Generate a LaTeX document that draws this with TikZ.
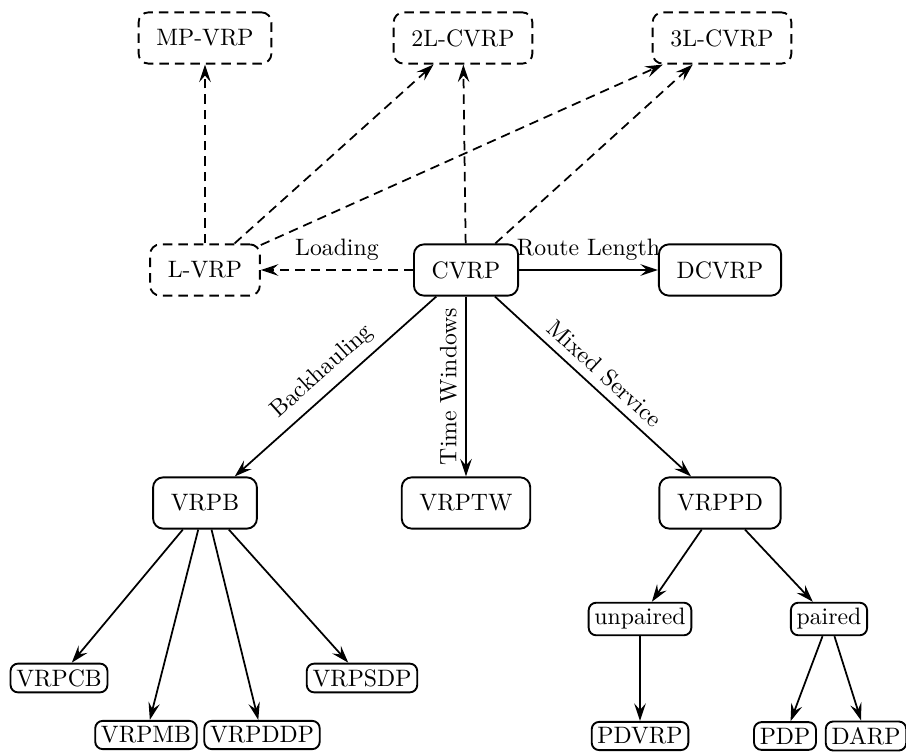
\documentclass[tikz,border=0pt]{standalone}
\usetikzlibrary{arrows.meta}
\begin{document}
\begin{tikzpicture}[x=0.4pt,y=-0.4pt,
  every node/.style={font=\fontsize{9.5}{11.4}\selectfont},
  prob/.style={draw, line width=0.75pt, rounded corners=4pt, inner xsep=7.1pt, minimum height=20.5pt},
  ext/.style={prob, dash pattern=on 3.8pt off 2.4pt},
  leaf/.style={draw, line width=0.75pt, rounded corners=3pt, inner sep=2.3pt},
  link/.style={line width=0.7pt, -{Stealth[length=7pt,width=4.6pt,inset=2.6pt]}},
  extlink/.style={link, dash pattern=on 3.8pt off 2.4pt}]
\useasboundingbox (0,0) rectangle (906,752);

% extensions by loading constraints
\node[ext] (mpvrp) at (205,38) {MP-VRP};
\node[ext] (tlcvrp) at (463,38) {2L-CVRP};
\node[ext] (thlcvrp) at (722,38) {3L-CVRP};

% main level
\node[ext] (lvrp) at (205,270) {L-VRP};
\node[prob] (cvrp) at (466,270) {CVRP};
\node[prob] (dcvrp) at (720,270) {DCVRP};

% second level
\node[prob] (vrpb) at (205,503) {VRPB};
\node[prob] (vrptw) at (466,503) {VRPTW};
\node[prob] (vrppd) at (720,503) {VRPPD};

% backhauling variants
\node[leaf] (vrpcb) at (59,678) {VRPCB};
\node[leaf] (vrpsdp) at (362,678) {VRPSDP};
\node[leaf] (vrpmb) at (146,735) {VRPMB};
\node[leaf] (vrpddp) at (262,735) {VRPDDP};

% pickup and delivery variants
\node[leaf] (unpaired) at (640,619) {unpaired};
\node[leaf] (paired) at (829,619) {paired};
\node[leaf] (pdvrp) at (640,736) {PDVRP};
\node[leaf] (pdp) at (785,736) {PDP};
\node[leaf] (darp) at (866,736) {DARP};

% dashed links
\draw[extlink] (cvrp) -- node[above] {Loading} (lvrp);
\draw[extlink] (lvrp) -- (mpvrp);
\draw[extlink] (lvrp) -- (tlcvrp);
\draw[extlink] (lvrp) -- (thlcvrp);
\draw[extlink] (cvrp) -- (tlcvrp);
\draw[extlink] (cvrp) -- (thlcvrp);

% solid links
\draw[link] (cvrp) -- node[above] {Route Length} (dcvrp);
\draw[link] (cvrp) -- node[above, sloped] {Backhauling} (vrpb);
\draw[link] (cvrp) -- node[midway, rotate=90, anchor=south] {Time Windows} (vrptw);
\draw[link] (cvrp) -- node[above, sloped] {Mixed Service} (vrppd);

\draw[link] (vrpb) -- (vrpcb);
\draw[link] (vrpb) -- (vrpmb);
\draw[link] (vrpb) -- (vrpddp);
\draw[link] (vrpb) -- (vrpsdp);

\draw[link] (vrppd) -- (unpaired);
\draw[link] (vrppd) -- (paired);
\draw[link] (unpaired) -- (pdvrp);
\draw[link] (paired) -- (pdp);
\draw[link] (paired) -- (darp);
\end{tikzpicture}
\end{document}
